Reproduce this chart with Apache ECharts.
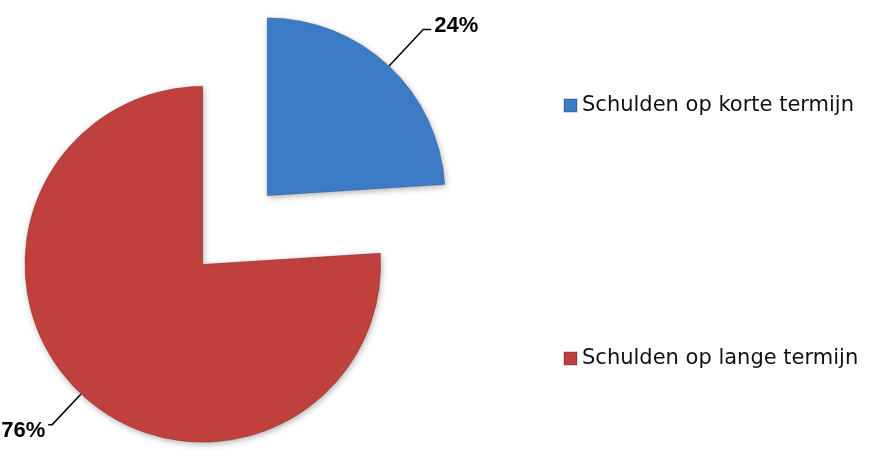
<!DOCTYPE html>
<html>
<head>
<meta charset="utf-8">
<script src="https://cdn.jsdelivr.net/npm/echarts@6/dist/echarts.min.js"></script>
<style>
  html, body { margin: 0; padding: 0; background: #fff; }
  #chart { width: 871px; height: 454px; }
</style>
</head>
<body>
<div id="chart"></div>
<script>
const categories = ['Schulden op korte termijn', 'Schulden op lange termijn']
const shares = [24, 76]
const colors = ['#3c7bc6', '#c0403d']

const chart = echarts.init(document.getElementById('chart'))

const data = categories.map((name, i) => ({
  name,
  value: shares[i],
  selected: true,
  itemStyle: { color: colors[i] },
  labelLine: i === 0 ? { length: 50, length2: 8 } : { length: 42, length2: 4 }
}))

chart.setOption({
  animation: false,
  legend: {
    orient: 'vertical',
    left: 558,
    top: 90,
    itemGap: 232,
    itemWidth: 13,
    itemHeight: 13,
    icon: 'rect',
    selectedMode: false,
    textStyle: { fontFamily: 'DejaVu Sans', fontSize: 21, color: '#111' },
    data: categories
  },
  series: [{
    type: 'pie',
    center: [235, 230],
    radius: 178,
    startAngle: 90,
    clockwise: true,
    selectedMode: 'multiple',
    selectedOffset: 47,
    avoidLabelOverlap: false,
    silent: true,
    itemStyle: {
      borderColor: 'rgba(0,0,0,0.15)',
      borderWidth: 1,
      shadowBlur: 6,
      shadowColor: 'rgba(0,0,0,0.3)',
      shadowOffsetX: 1,
      shadowOffsetY: 2
    },
    label: {
      show: true,
      position: 'outside',
      formatter: '{d}%',
      fontFamily: 'Liberation Sans',
      fontWeight: 'bold',
      fontSize: 22,
      color: '#000',
      distanceToLabelLine: 3
    },
    labelLine: {
      show: true,
      lineStyle: { color: '#000', width: 1.5 }
    },
    labelLayout: function (params) {
      if (params.dataIndex === 0) return { dy: -4 }
      return { dy: 6 }
    },
    emphasis: { disabled: true },
    data
  }]
})
</script>
</body>
</html>
